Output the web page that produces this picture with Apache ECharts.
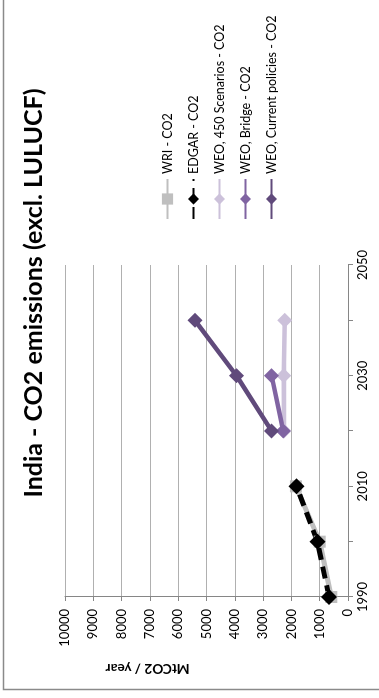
<!DOCTYPE html>
<html>
<head>
<meta charset="utf-8">
<script src="https://cdn.jsdelivr.net/npm/echarts@6/dist/echarts.min.js"></script>
<style>
html,body{margin:0;padding:0;background:#fff;}
#wrap{position:absolute;left:0;top:0;width:379px;height:698px;overflow:hidden;background:#fff;}
#c{position:absolute;left:0;top:0;width:698px;height:379px;transform-origin:0 0;transform:translate(0px,698px) rotate(-90deg);}
</style>
</head>
<body>
<div id="wrap"><div id="c"></div></div>
<script>
const years = ['1990','2000','2010','2020','2030','2040','2050'];
const wri = [590, 1000, 1840, null, null, null, null];
const edgar = [670, 1080, 1820, null, null, null, null];
const weo450 = [null, null, null, 2260, 2270, 2235, null];
const weoBridge = [null, null, null, 2290, 2700, null, null];
const weoCurrent = [null, null, null, 2700, 3940, 5410, null];
const valueTicks = {min: 0, max: 10000, interval: 1000};
const titleText = 'India - CO2 emissions (excl. LULUCF)';
const axisTitle = 'MtCO2 / year';
const names = ['WRI - CO2', 'EDGAR - CO2', 'WEO, 450 Scenarios - CO2', 'WEO, Bridge - CO2', 'WEO, Current policies - CO2'];

const FONT = 'Lato, "Open Sans", sans-serif';
const chart = echarts.init(document.getElementById('c'), null, {renderer: 'canvas', width: 698, height: 379});

function lineSeries(name, data, color, symbol, size, width, dashed) {
  return {
    name: name, type: 'line', data: data, connectNulls: false,
    symbol: symbol, symbolSize: size,
    lineStyle: {color: color, width: width, type: dashed ? [12, 7] : 'solid'},
    itemStyle: {color: color},
    z: 3
  };
}

chart.setOption({
  animation: false,
  backgroundColor: '#fff',
  title: {
    text: titleText,
    left: 400, top: 16, textAlign: 'center',
    textStyle: {fontFamily: FONT, fontWeight: 'bold', fontSize: 25, color: '#000'}
  },
  legend: {
    orient: 'vertical', left: 473, top: 156,
    itemWidth: 40, itemHeight: 14, itemGap: 13,
    textStyle: {fontFamily: FONT, fontSize: 12.5, color: '#000'},
    data: names
  },
  grid: {left: 101, right: 265, top: 65, bottom: 31, containLabel: false},
  xAxis: {
    type: 'category', data: years, boundaryGap: false,
    axisLine: {lineStyle: {color: '#868686', width: 1}},
    axisTick: {show: true, interval: 0, length: 5, lineStyle: {color: '#868686'}},
    axisLabel: {interval: 1, margin: 8, fontFamily: FONT, fontSize: 13, color: '#000'},
    splitLine: {show: false}
  },
  yAxis: {
    type: 'value', min: valueTicks.min, max: valueTicks.max, interval: valueTicks.interval,
    axisLine: {show: true, lineStyle: {color: '#868686', width: 1}},
    axisTick: {show: true, length: 4, lineStyle: {color: '#868686'}},
    axisLabel: {margin: 12, fontFamily: FONT, fontSize: 13, color: '#000', formatter: function (v) { return String(v); }},
    splitLine: {show: true, lineStyle: {color: '#b0b0b0', width: 1}}
  },
  graphic: [
    {type: 'rect', shape: {x: 8.5, y: 3.5, width: 800, height: 500}, style: {fill: 'none', stroke: '#8a8a8a', lineWidth: 1.5}, z: -10},
    {type: 'text', x: 30, y: 147.5, rotation: Math.PI / 2,
     style: {text: axisTitle, align: 'center', verticalAlign: 'middle', font: 'bold 13.5px ' + FONT, fill: '#000'}}
  ],
  series: [
    lineSeries(names[0], wri, '#bfbfbf', 'rect', 12, 5, false),
    lineSeries(names[1], edgar, '#000000', 'diamond', 16, 5, true),
    lineSeries(names[2], weo450, '#ccc1da', 'diamond', 15, 4.5, false),
    lineSeries(names[3], weoBridge, '#8064a2', 'diamond', 15, 4.5, false),
    lineSeries(names[4], weoCurrent, '#604a7b', 'diamond', 15, 4.5, false)
  ]
});
</script>
</body>
</html>
